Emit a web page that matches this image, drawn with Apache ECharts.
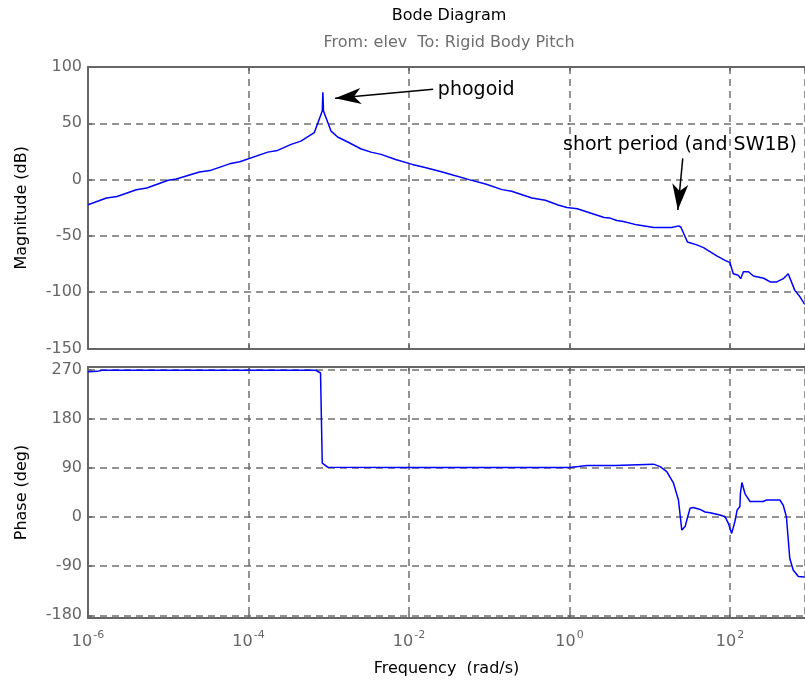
<!DOCTYPE html>
<html>
<head>
<meta charset="utf-8">
<script src="https://cdn.jsdelivr.net/npm/echarts@6/dist/echarts.min.js"></script>
<style>
  html, body { margin: 0; padding: 0; background: #ffffff; }
  #chart { width: 805px; height: 686px; }
</style>
</head>
<body>
<div id="chart"></div>
<script>
// Frequency response of the elevator -> rigid body pitch channel.
// Frequencies in rad/s, magnitude in dB, phase in degrees.
const magFreq = [
  1.0e-6, 1.7e-6, 2.3e-6, 4.0e-6, 5.4e-6, 1.0e-5, 1.26e-5, 2.45e-5, 3.3e-5, 5.8e-5,
  7.8e-5, 1.74e-4, 2.3e-4, 3.4e-4, 4.5e-4, 6.6e-4, 8.3e-4, 8.45e-4, 8.6e-4, 1.07e-3,
  1.29e-3, 1.8e-3, 2.5e-3, 3.35e-3, 4.5e-3, 6.8e-3, 1.1e-2, 1.54e-2, 2.6e-2, 3.6e-2,
  5.6e-2, 9.0e-2, 0.144, 0.19, 0.34, 0.5, 0.72, 0.93, 1.25, 2.7,
  3.2, 3.9, 4.7, 6.9, 11.2, 18.8, 22.9, 24.5, 29.5, 38.6,
  46.8, 68.4, 87, 100, 110, 127, 136, 147, 170, 196,
  263, 317, 383, 462, 532, 643, 745, 856
];
const magDb = [
  -22.3, -16.3, -15.0, -9.0, -7.4, -0.6, 0.6, 6.8, 8.0, 14.0,
  15.8, 24.4, 25.9, 31.3, 34.2, 41.7, 61.0, 77.6, 61.0, 43.0,
  37.8, 32.7, 27.4, 24.4, 22.4, 17.9, 13.5, 11.0, 6.8, 3.8,
  0.0, -3.9, -8.9, -10.4, -16.3, -18.4, -22.6, -24.7, -25.9, -33.6,
  -34.2, -36.3, -37.2, -40.2, -42.6, -42.6, -41.1, -42.3, -55.4, -58.0,
  -60.4, -67.8, -71.7, -73.8, -83.6, -85.0, -88.0, -81.8, -81.8, -85.6,
  -87.6, -90.9, -90.9, -88.0, -83.6, -98.4, -104.1, -110.9
];

const phaseFreq = [
  1.0e-6, 1.3e-6, 1.5e-6, 6.9e-4, 7.9e-4, 8.3e-4, 9.7e-4, 0.01, 1.0, 1.3,
  1.66, 3.7, 3.9, 11.1, 13.5, 16.3, 19.8, 22.8, 25.1, 27.6,
  29, 31.8, 35, 42.4, 49, 56.5, 75, 87, 95.5, 105,
  115, 123, 133, 135, 141, 154, 178, 259, 286, 419,
  460, 505, 556, 613, 712, 850
];
const phaseDeg = [
  266.5, 267, 269, 269, 264, 99, 91.5, 90.6, 90.6, 92.5,
  94.4, 94.4, 97, 97, 92.5, 83.4, 62, 31.2, -23.9, -17.5,
  -5.5, 16, 17.6, 14, 9.2, 8, 3.7, 0.6, -11.6, -30,
  -8.6, 13.1, 19.2, 43.8, 63.3, 42.6, 28.4, 28.4, 31.2, 31.2,
  22, 0.6, -75.5, -97, -109, -110
];

// Visible frequency window as decade exponents (10^-6 ... ~860 rad/s), ticks every 2 decades
const freqExpRange = [-6, 2.935];
const freqExpStep = 2;
const magRange = [-150, 100];
const magStep = 50;
const phaseRange = [-185, 275];
const phaseTicks = [-180, -90, 0, 90, 180, 270];

// Annotations: label text, text anchor, arrow tail and arrow tip as (freq, dB)
const notes = [
  { text: 'phogoid', at: [2.29e-2, 79.6], from: [2.0e-2, 80.2], to: [1.2e-3, 72.2] },
  { text: 'short period (and SW1B)', at: [0.83, 30.7], from: [25.8, 18.9], to: [22.4, -27.0] }
];

const FONT = 'DejaVu Sans';
const AXIS_GRAY = '#666666';
const GRID_GRAY = '#707070';

// Filled arrowhead with a notched back; the tip sits at the centre of a square box
const ARROW_HEAD = 'path://M-26,-26 M26,26 M0,0 L8,26 L0,19 L-8,26 Z';

const toPts = (fs, vs) => fs.map((f, i) => [Math.log10(f), vs[i]]);
const lg = p => [Math.log10(p[0]), p[1]];

const axisLineStyle = { show: true, onZero: false, lineStyle: { color: AXIS_GRAY, width: 2 } };
const tickStyle = { show: true, inside: true, length: 4, lineStyle: { color: AXIS_GRAY, width: 1.5 } };
const edgeTickStyle = { show: true, inside: true, length: 2, lineStyle: { color: AXIS_GRAY, width: 1.5 } };
const dashed = { show: true, lineStyle: { color: GRID_GRAY, width: 1.5, type: [7, 5] } };

function freqAxis(grid, position, withLabels, withSplit) {
  const ax = {
    type: 'value', gridIndex: grid, position: position,
    min: freqExpRange[0], max: freqExpRange[1], interval: freqExpStep,
    axisLine: axisLineStyle, axisTick: tickStyle,
    splitLine: withSplit ? dashed : { show: false },
    axisLabel: { show: false }
  };
  if (withLabels) {
    ax.axisLabel = {
      show: true, margin: 12, showMaxLabel: false,
      formatter: v => (v >= freqExpRange[1] ? '' : '{b|10}{s|' + v + '}'),
      rich: {
        b: { fontFamily: FONT, fontSize: 16, color: AXIS_GRAY, lineHeight: 20, verticalAlign: 'bottom' },
        s: { fontFamily: FONT, fontSize: 11, color: AXIS_GRAY, lineHeight: 20, verticalAlign: 'top', padding: [0, 0, 0, 1] }
      }
    };
    ax.name = 'Frequency  (rad/s)';
    ax.nameLocation = 'middle';
    ax.nameGap = 43;
    ax.nameTextStyle = { fontFamily: FONT, fontSize: 16, color: '#000' };
  }
  return ax;
}

const yLabel = {
  show: true, margin: 6, fontFamily: FONT, fontSize: 16, color: AXIS_GRAY,
  padding: [0, 0, 6, 0]
};

const option = {
  animation: false,
  backgroundColor: '#ffffff',
  grid: [
    { left: 88, right: 0, top: 67, height: 281.5 },
    { left: 88, right: 0, top: 367, height: 251 }
  ],
  xAxis: [
    freqAxis(0, 'bottom', false, true),
    freqAxis(0, 'top', false, false),
    freqAxis(1, 'bottom', true, true),
    freqAxis(1, 'top', false, false)
  ],
  yAxis: [
    {
      type: 'value', gridIndex: 0, position: 'left',
      min: magRange[0], max: magRange[1], interval: magStep,
      axisLine: axisLineStyle, axisTick: tickStyle, splitLine: dashed,
      axisLabel: yLabel,
      name: 'Magnitude (dB)', nameLocation: 'middle', nameGap: 58, nameRotate: 90,
      nameTextStyle: { fontFamily: FONT, fontSize: 16, color: '#000' }
    },
    {
      type: 'value', gridIndex: 0, position: 'right',
      min: magRange[0], max: magRange[1], interval: magStep,
      axisLine: { show: false }, axisTick: edgeTickStyle, splitLine: { show: false },
      axisLabel: { show: false }
    },
    {
      type: 'value', gridIndex: 1, position: 'left',
      min: phaseRange[0], max: phaseRange[1],
      axisLine: axisLineStyle,
      axisTick: Object.assign({}, tickStyle, { customValues: phaseTicks }),
      splitLine: dashed,
      axisLabel: Object.assign({}, yLabel, { customValues: phaseTicks }),
      name: 'Phase (deg)', nameLocation: 'middle', nameGap: 58, nameRotate: 90,
      nameTextStyle: { fontFamily: FONT, fontSize: 16, color: '#000' }
    },
    {
      type: 'value', gridIndex: 1, position: 'right',
      min: phaseRange[0], max: phaseRange[1],
      axisLine: { show: false },
      axisTick: Object.assign({}, edgeTickStyle, { customValues: phaseTicks }),
      splitLine: { show: false },
      axisLabel: { show: false }
    }
  ],
  graphic: [
    {
      type: 'text', x: 449, y: 16,
      style: { text: 'Bode Diagram', fontFamily: FONT, fontSize: 16, fill: '#000',
               textAlign: 'center', textVerticalAlign: 'middle', align: 'center', verticalAlign: 'middle' }
    },
    {
      type: 'text', x: 449, y: 43,
      style: { text: 'From: elev  To: Rigid Body Pitch', fontFamily: FONT, fontSize: 16, fill: '#6e6e6e',
               textAlign: 'center', textVerticalAlign: 'middle', align: 'center', verticalAlign: 'middle' }
    }
  ],
  series: [
    {
      name: 'Magnitude', type: 'line', xAxisIndex: 0, yAxisIndex: 0,
      data: toPts(magFreq, magDb),
      showSymbol: false, symbol: 'none',
      lineStyle: { color: '#0000ff', width: 1.5 },
      itemStyle: { color: '#0000ff' },
      z: 5,
      markLine: {
        silent: true,
        symbol: ['none', ARROW_HEAD],
        symbolSize: 52,
        lineStyle: { color: '#000', width: 1.5, type: 'solid' },
        itemStyle: { color: '#000' },
        label: { show: false },
        data: notes.map(n => [{ coord: lg(n.from) }, { coord: lg(n.to) }])
      },
      markPoint: {
        silent: true,
        symbol: 'circle', symbolSize: 0,
        label: { show: true, position: 'right', distance: 0, fontFamily: FONT, fontSize: 19, color: '#000' },
        data: notes.map(n => ({ coord: lg(n.at), value: n.text, label: { formatter: n.text } }))
      }
    },
    {
      name: 'Phase', type: 'line', xAxisIndex: 2, yAxisIndex: 2,
      data: toPts(phaseFreq, phaseDeg),
      showSymbol: false, symbol: 'none',
      lineStyle: { color: '#0000ff', width: 1.5 },
      itemStyle: { color: '#0000ff' },
      z: 5
    }
  ]
};

const chart = echarts.init(document.getElementById('chart'), null, { renderer: 'canvas' });
chart.setOption(option);
</script>
</body>
</html>
